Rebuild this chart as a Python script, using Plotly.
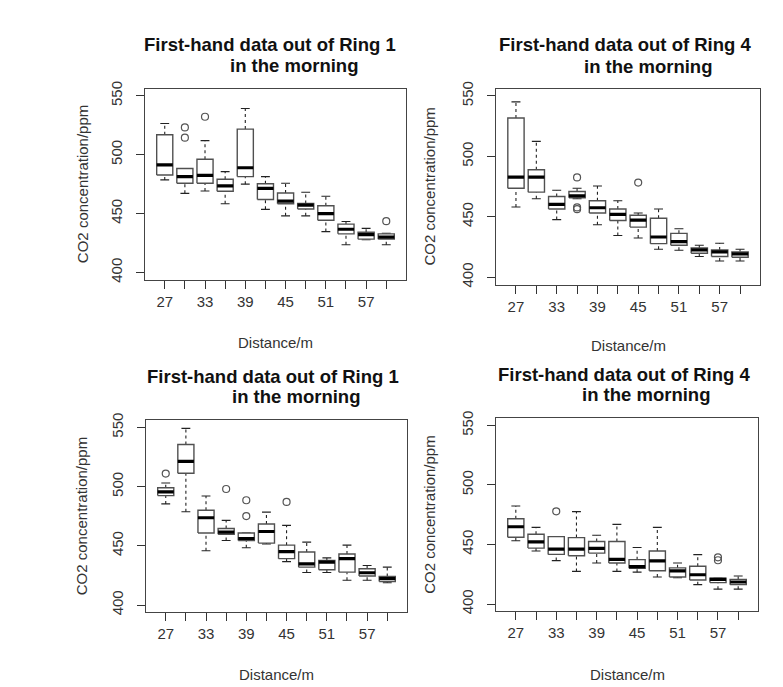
import plotly.graph_objects as go

W, H = 783, 687
FONT = "Liberation Sans, Arial, sans-serif"

# ---------------- data ----------------
distances = [27, 30, 33, 36, 39, 42, 45, 48, 51, 54, 57, 60]
tick_labels = ["27", "", "33", "", "39", "", "45", "", "51", "", "57", ""]
y_ticks = [400, 450, 500, 550]

titles = [
    ("First-hand data out of Ring 1", "in the morning"),
    ("First-hand data out of Ring 4", "in the morning"),
    ("First-hand data out of Ring 1", "in the morning"),
    ("First-hand data out of Ring 4", "in the morning"),
]
x_title = "Distance/m"
y_title = "CO2 concentration/ppm"

# panel 1 (top-left)
p1_low = [478.6, 467.2, 469.2, 458.3, 475.0, 453.6, 448.1, 448.1, 434.7, 423.6, 427.8, 423.6]
p1_q1 = [482.8, 475.8, 475.8, 468.9, 481.4, 461.9, 458.3, 453.9, 444.4, 432.8, 428.3, 428.3]
p1_med = [491.4, 481.4, 482.5, 473.6, 488.9, 471.4, 460.6, 457.2, 450.0, 436.7, 432.2, 430.0]
p1_q3 = [516.9, 488.3, 496.1, 479.2, 521.7, 475.3, 467.5, 458.6, 456.7, 441.1, 434.2, 432.8]
p1_high = [526.4, 488.3, 511.9, 485.6, 539.2, 481.4, 475.8, 468.1, 464.7, 443.3, 437.5, 433.3]
p1_out_d = [30, 30, 33, 60]
p1_out_v = [523.1, 514.4, 532.2, 443.6]

# panel 2 (top-right)
p2_low = [458.1, 464.9, 447.7, 465.0, 443.4, 434.6, 432.5, 423.2, 422.4, 417.2, 413.4, 413.4]
p2_q1 = [473.6, 470.4, 456.5, 465.7, 453.2, 446.9, 441.5, 427.8, 426.5, 419.9, 417.2, 416.6]
p2_med = [482.9, 482.9, 460.3, 467.4, 457.5, 452.1, 447.2, 433.3, 429.5, 422.6, 421.0, 419.4]
p2_q3 = [531.7, 488.9, 466.8, 470.9, 463.3, 456.5, 451.3, 448.8, 436.3, 424.3, 422.6, 421.0]
p2_high = [545.1, 512.4, 472.0, 473.6, 475.5, 463.3, 453.2, 456.5, 440.1, 426.5, 428.1, 423.2]
p2_out_d = [36, 36, 36, 45]
p2_out_v = [482.6, 457.8, 456.3, 478.3]

# panel 3 (bottom-left)
p3_low = [485.4, 478.8, 445.9, 454.5, 448.4, 451.5, 436.7, 427.5, 427.5, 420.9, 420.9, 418.9]
p3_q1 = [492.4, 511.3, 460.9, 459.8, 454.5, 452.3, 439.2, 432.0, 429.8, 427.8, 424.5, 419.8]
p3_med = [495.5, 521.3, 473.7, 461.5, 456.2, 462.1, 445.1, 434.8, 436.2, 439.2, 427.3, 422.3]
p3_q3 = [499.1, 535.5, 480.1, 464.6, 460.9, 468.5, 450.6, 444.8, 437.6, 443.1, 430.6, 424.2]
p3_high = [503.0, 549.2, 492.1, 471.5, 460.9, 478.5, 467.3, 453.1, 439.8, 450.6, 433.4, 432.0]
p3_out_d = [27, 36, 39, 39, 45]
p3_out_v = [511.0, 498.0, 488.5, 475.1, 487.1]

# panel 4 (bottom-right)
p4_low = [453.1, 444.5, 436.5, 427.4, 434.5, 427.4, 426.8, 422.7, 422.1, 416.3, 412.5, 412.5]
p4_q1 = [456.1, 447.0, 441.7, 440.6, 442.8, 434.5, 430.1, 427.9, 422.7, 420.2, 418.0, 416.3]
p4_med = [464.9, 452.2, 446.1, 446.1, 446.7, 437.6, 431.5, 436.2, 427.9, 424.6, 420.7, 418.5]
p4_q3 = [471.6, 458.6, 456.6, 455.8, 452.5, 452.5, 437.3, 444.5, 430.4, 431.8, 421.6, 420.7]
p4_high = [482.3, 464.4, 456.6, 477.6, 457.8, 466.9, 447.5, 464.4, 434.5, 441.5, 421.6, 423.5]
p4_out_d = [33, 57, 57]
p4_out_v = [477.9, 439.2, 436.8]

panel_data = [
    (p1_low, p1_q1, p1_med, p1_q3, p1_high, p1_out_d, p1_out_v),
    (p2_low, p2_q1, p2_med, p2_q3, p2_high, p2_out_d, p2_out_v),
    (p3_low, p3_q1, p3_med, p3_q3, p3_high, p3_out_d, p3_out_v),
    (p4_low, p4_q1, p4_med, p4_q3, p4_high, p4_out_d, p4_out_v),
]

# ---------------- layout (pixel geometry) ----------------
# plot boxes: left, top, right, bottom
boxes = [(145, 82, 406, 276), (496, 82, 760, 281), (146, 419, 407, 614), (496, 417, 758, 613)]
title_pos = [((270, 37), (294, 58)), ((625, 37), (648, 59)),
             ((273, 374), (296, 395)), ((624, 372), (646, 393))]
ylab_x = [82, 430, 81, 430]
xlab_y = [340, 343, 677, 677]

BOXW = 0.4
STAPLE = 0.22
EDGE = "#505050"

fig = go.Figure()
annotations = []

def px_x(v):
    return v / W

def px_y(v):
    return 1 - v / H

for i, (lo, q1, med, q3, hi, od, ov) in enumerate(panel_data):
    n = i + 1
    xa, ya = ("x", "y") if n == 1 else (f"x{n}", f"y{n}")
    pos = {d: k + 1 for k, d in enumerate(distances)}
    bx, by, mx, my, wx, wy, sx, sy = [], [], [], [], [], [], [], []
    for k in range(len(distances)):
        c = k + 1
        bx += [c - BOXW, c + BOXW, c + BOXW, c - BOXW, c - BOXW, None]
        by += [q1[k], q1[k], q3[k], q3[k], q1[k], None]
        mx += [c - BOXW, c + BOXW, None]
        my += [med[k], med[k], None]
        wx += [c, c, None, c, c, None]
        wy += [q3[k], hi[k], None, lo[k], q1[k], None]
        sx += [c - STAPLE, c + STAPLE, None, c - STAPLE, c + STAPLE, None]
        sy += [hi[k], hi[k], None, lo[k], lo[k], None]
    common = dict(xaxis=xa, yaxis=ya, showlegend=False, hoverinfo="skip")
    fig.add_trace(go.Scatter(x=wx, y=wy, mode="lines",
                             line=dict(color="#222222", width=1.1, dash="3px,3px"), **common))
    fig.add_trace(go.Scatter(x=sx, y=sy, mode="lines",
                             line=dict(color="#222222", width=1.1), **common))
    fig.add_trace(go.Scatter(x=bx, y=by, mode="lines", fill="toself", fillcolor="white",
                             line=dict(color=EDGE, width=1.4), **common))
    fig.add_trace(go.Scatter(x=mx, y=my, mode="lines",
                             line=dict(color="black", width=3.2), **common))
    fig.add_trace(go.Scatter(x=[pos[d] for d in od], y=ov, mode="markers",
                             marker=dict(symbol="circle-open", size=7, color="#555555",
                                         line=dict(color="#555555", width=1.2)),
                             **common))

    l, t, r, b = boxes[i]
    axis_common = dict(showgrid=False, zeroline=False, showline=True, mirror=True,
                       linecolor="#444444", linewidth=1.2, ticks="outside", ticklen=8,
                       tickcolor="#333333", tickwidth=1.2,
                       tickfont=dict(family=FONT, size=15, color="#333333"))
    fig.layout[xa.replace("x", "xaxis")] = dict(
        domain=[px_x(l), px_x(r)], range=[0.02, 12.98], anchor=ya,
        tickmode="array", tickvals=list(range(1, 13)), ticktext=tick_labels,
        ticklabelstandoff=0, **axis_common)
    fig.layout[ya.replace("y", "yaxis")] = dict(
        domain=[px_y(b), px_y(t)], range=[394, 556], anchor=xa,
        tickmode="array", tickvals=y_ticks, ticktext=[str(v) for v in y_ticks],
        tickangle=-90, ticklabelstandoff=8, **axis_common)

    (t1x, t1y), (t2x, t2y) = title_pos[i]
    annotations.append(dict(text=f"<b>{titles[i][0]}</b>", x=px_x(t1x), y=px_y(t1y),
                            xref="paper", yref="paper", showarrow=False,
                            xanchor="center", yanchor="middle",
                            font=dict(family=FONT, size=18.5, color="#111111")))
    annotations.append(dict(text=f"<b>{titles[i][1]}</b>", x=px_x(t2x), y=px_y(t2y),
                            xref="paper", yref="paper", showarrow=False,
                            xanchor="center", yanchor="middle",
                            font=dict(family=FONT, size=18.5, color="#111111")))
    annotations.append(dict(text=y_title, x=px_x(ylab_x[i]), y=px_y((t + b) / 2),
                            xref="paper", yref="paper", showarrow=False, textangle=-90,
                            xanchor="center", yanchor="middle",
                            font=dict(family=FONT, size=15, color="#333333")))
    annotations.append(dict(text=x_title, x=px_x((l + r) / 2), y=px_y(xlab_y[i]),
                            xref="paper", yref="paper", showarrow=False,
                            xanchor="center", yanchor="middle",
                            font=dict(family=FONT, size=15, color="#333333")))

fig.update_layout(width=W, height=H, margin=dict(l=0, r=0, t=0, b=0),
                  paper_bgcolor="white", plot_bgcolor="white",
                  annotations=annotations, font=dict(family=FONT))

fig.write_html("out.html")
